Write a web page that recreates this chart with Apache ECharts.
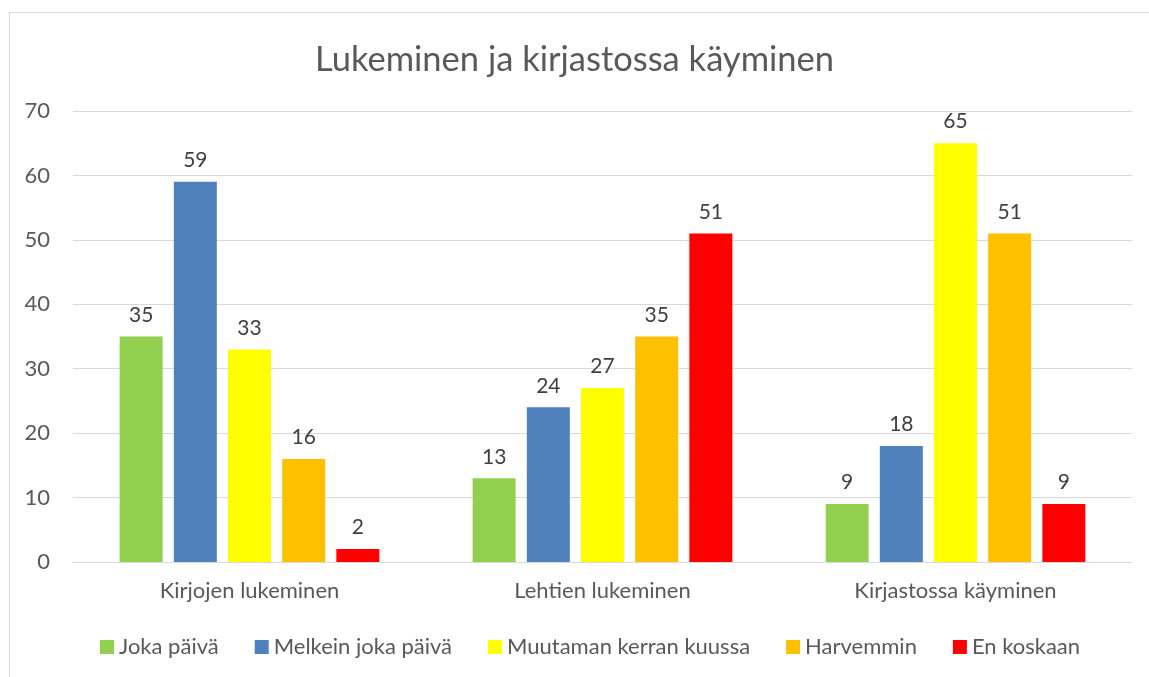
<!DOCTYPE html>
<html>
<head>
<meta charset="utf-8">
<script src="https://cdn.jsdelivr.net/npm/echarts@6/dist/echarts.min.js"></script>
<style>
  html, body { margin: 0; padding: 0; background: #fff; }
  .frame {
    position: absolute; left: 9px; top: 12px; width: 1200px; height: 700px;
    border-left: 1px solid #d9d9d9; border-top: 1px solid #d9d9d9;
  }
  #chart { position: absolute; left: 0; top: 0; width: 1149px; height: 677px; }
</style>
</head>
<body>
<div class="frame"></div>
<div id="chart"></div>
<script>
const categories = ['Kirjojen lukeminen', 'Lehtien lukeminen', 'Kirjastossa käyminen'];
const seriesNames = ['Joka päivä', 'Melkein joka päivä', 'Muutaman kerran kuussa', 'Harvemmin', 'En koskaan'];
const jokaPaiva = [35, 13, 9];
const melkeinJokaPaiva = [59, 24, 18];
const muutamanKerran = [33, 27, 65];
const harvemmin = [16, 35, 51];
const enKoskaan = [2, 51, 9];
const yTicks = [0, 10, 20, 30, 40, 50, 60, 70];

const colors = ['#92d050', '#4f81bd', '#ffff00', '#ffc000', '#ff0000'];
const values = [jokaPaiva, melkeinJokaPaiva, muutamanKerran, harvemmin, enKoskaan];
const font = 'Lato';
const textColor = '#595959';

const chart = echarts.init(document.getElementById('chart'));
chart.setOption({
  animation: false,
  title: {
    text: 'Lukeminen ja kirjastossa käyminen',
    left: 'center',
    top: 37,
    textStyle: { fontFamily: font, fontSize: 34.5, fontWeight: 'normal', color: textColor }
  },
  legend: {
    bottom: 14,
    left: 95,
    itemWidth: 14,
    itemHeight: 14,
    itemGap: 36,
    icon: 'rect',
    textStyle: { fontFamily: font, fontSize: 22, color: textColor }
  },
  grid: { left: 73, right: 17, top: 111, bottom: 115 },
  xAxis: {
    type: 'category',
    data: categories,
    axisLine: { lineStyle: { color: '#d9d9d9', width: 1 } },
    axisTick: { show: false },
    axisLabel: { fontFamily: font, fontSize: 22, color: textColor, margin: 18 }
  },
  yAxis: {
    type: 'value',
    min: yTicks[0],
    max: yTicks[yTicks.length - 1],
    interval: 10,
    axisLine: { show: false },
    axisTick: { show: false },
    splitLine: { lineStyle: { color: '#d9d9d9', width: 1 } },
    axisLabel: { fontFamily: font, fontSize: 22, color: textColor, margin: 23 }
  },
  series: seriesNames.map((name, i) => ({
    name: name,
    type: 'bar',
    data: values[i],
    barWidth: 43,
    barGap: '26%',
    itemStyle: { color: colors[i] },
    label: {
      show: true,
      position: 'top',
      distance: 11,
      fontFamily: font,
      fontSize: 21,
      color: '#404040'
    }
  }))
});
</script>
</body>
</html>
